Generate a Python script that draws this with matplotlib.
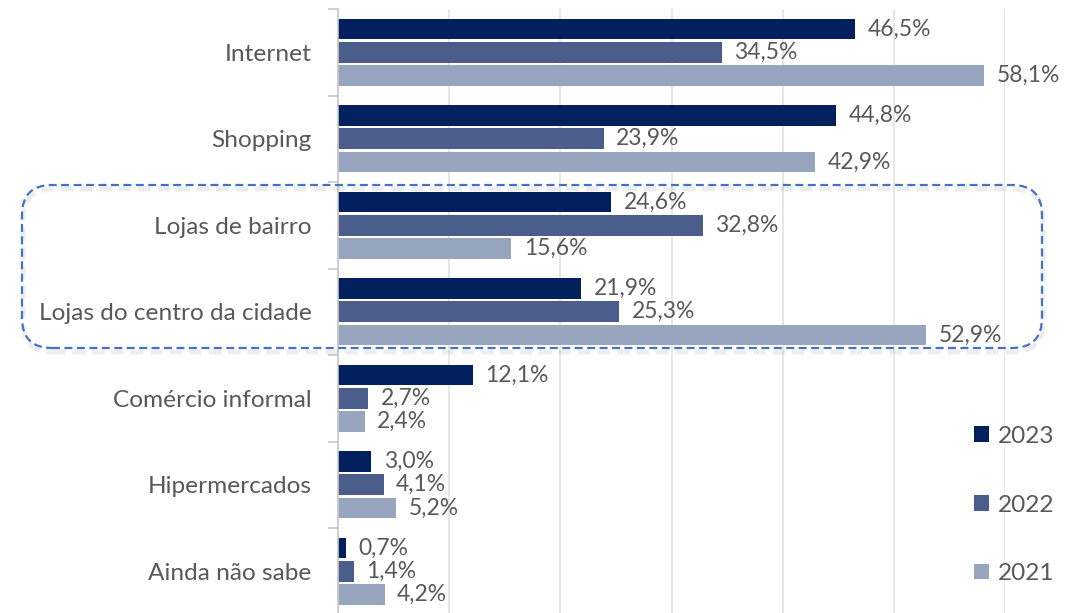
import matplotlib
matplotlib.use("Agg")
import matplotlib.pyplot as plt
import matplotlib.transforms as mtransforms
from matplotlib.patches import FancyBboxPatch, Patch
import numpy as np

categories = ["Internet", "Shopping", "Lojas de bairro", "Lojas do centro da cidade",
              "Comércio informal", "Hipermercados", "Ainda não sabe"]
series_names = ["2023", "2022", "2021"]
v2023 = [46.5, 44.8, 24.6, 21.9, 12.1, 3.0, 0.7]
v2022 = [34.5, 23.9, 32.8, 25.3, 2.7, 4.1, 1.4]
v2021 = [58.1, 42.9, 15.6, 52.9, 2.4, 5.2, 4.2]
colors = ["#021F5E", "#4B5E8B", "#98A5BF"]

plt.rcParams['font.family'] = ['Lato', 'DejaVu Sans']
TXT = "#595959"
FS_LAB = 16.5
FS_CAT = 17.6
FS_LEG = 17.6

W, H = 1067, 613
fig = plt.figure(figsize=(W / 100, H / 100), dpi=100)
ax_l, ax_r, ax_t, ax_b = 338, 1005, 9, 614.5
ax = fig.add_axes([ax_l / W, (H - ax_b) / H, (ax_r - ax_l) / W, (ax_b - ax_t) / H])

y = np.arange(len(categories))
bh = 0.237
off = 0.27
for i, (vals, col, name) in enumerate(zip([v2023, v2022, v2021], colors, series_names)):
    yy = y + (i - 1) * off
    ax.barh(yy, vals, height=bh, color=col, label=name, zorder=3)
    for yi, v in zip(yy, vals):
        ax.annotate(f"{v:.1f}".replace(".", ",") + "%", (v, yi), xytext=(9.0, 0),
                    textcoords="offset points", va="center", ha="left",
                    fontsize=FS_LAB, color=TXT, annotation_clip=False, zorder=4)

ax.set_xlim(0, 60)
ax.set_ylim(len(categories) - 0.5, -0.5)
ax.set_xticks(np.arange(0, 61, 10))
ax.xaxis.grid(True, color="#E3E3E3", linewidth=1.2, zorder=0)
ax.tick_params(axis="x", bottom=False, labelbottom=False)
ax.set_yticks(np.arange(-0.5, len(categories), 1.0))
ax.set_yticklabels([])
ax.set_yticks(y, minor=True)
ax.set_yticklabels(categories, minor=True, fontsize=FS_CAT, color=TXT)
ax.tick_params(axis="y", which="major", length=7, color="#C8C8C8", width=1.2)
ax.tick_params(axis="y", which="minor", length=0, pad=19)
for s in ["top", "right", "bottom"]:
    ax.spines[s].set_visible(False)
ax.spines["left"].set_color("#C8C8C8")
ax.spines["left"].set_linewidth(1.2)
ax.spines["left"].set_zorder(5)
ax.set_axisbelow(True)

handles = [Patch(facecolor=c, edgecolor="none") for c in colors]
leg = fig.legend(handles, series_names, loc="center left",
                 bbox_to_anchor=(974 / W, (H - 505) / H),
                 frameon=False, fontsize=FS_LEG, labelcolor=TXT,
                 handlelength=0.62, handleheight=0.62, handletextpad=0.37,
                 labelspacing=1.95, borderaxespad=0, borderpad=0)

ident = mtransforms.IdentityTransform()
bx0, bx1, by_top, by_bot = 22, 1042, 185, 348
shadow = FancyBboxPatch((bx0 + 1, H - by_bot - 4), bx1 - bx0, by_bot - by_top,
                        boxstyle="round,pad=0,rounding_size=30", transform=ident,
                        fill=False, edgecolor="#9E9E9E", alpha=0.18, linewidth=3.5,
                        linestyle=(0, (2.6, 1.4)), zorder=1)
fig.add_artist(shadow)
box = FancyBboxPatch((bx0, H - by_bot), bx1 - bx0, by_bot - by_top,
                     boxstyle="round,pad=0,rounding_size=30", transform=ident,
                     fill=False, edgecolor="#4472C4", linewidth=1.6,
                     linestyle=(0, (3.6, 2.0)), zorder=10)
fig.add_artist(box)

fig.savefig("out.png", dpi=100)
